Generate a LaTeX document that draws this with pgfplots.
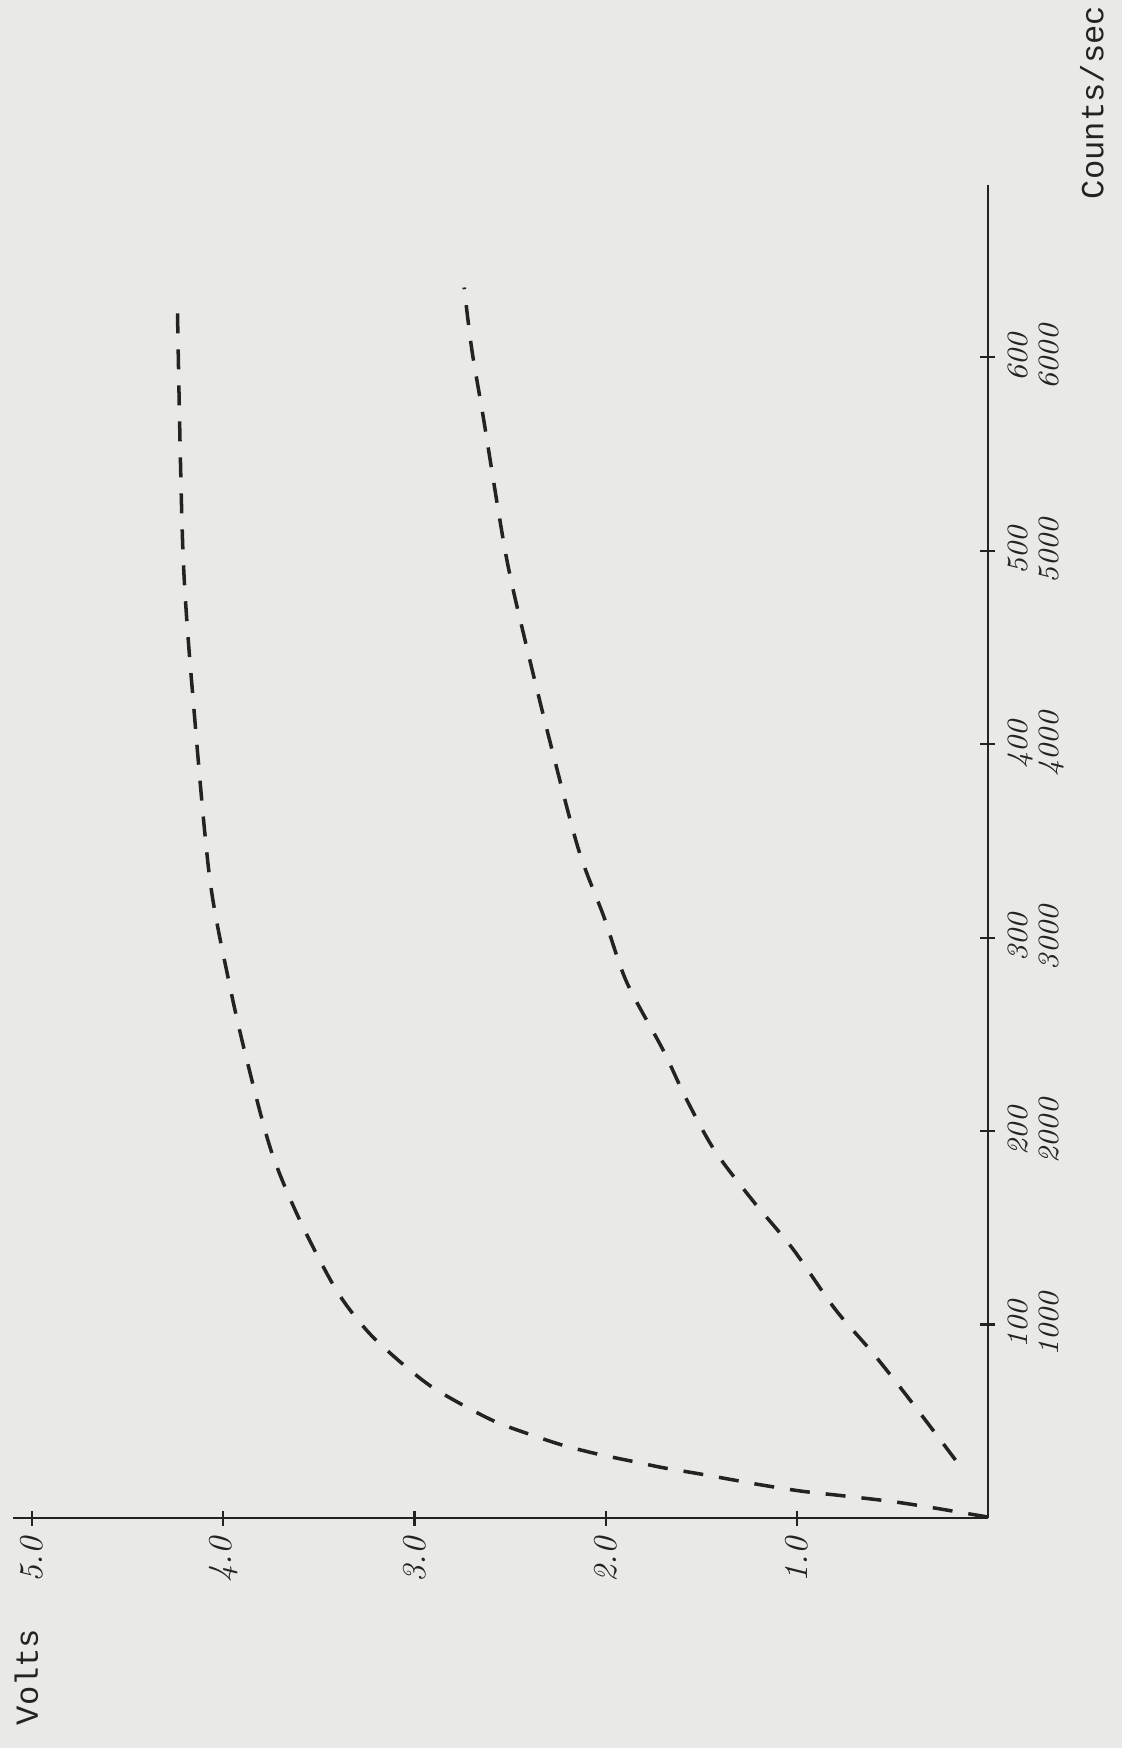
\documentclass[border=0pt]{standalone}
\usepackage{fontspec}
\usepackage{pgfplots}
\pgfplotsset{compat=1.18}
\newfontfamily\monofont{Liberation Mono}
\definecolor{paper}{RGB}{233,234,230}
\definecolor{ink}{RGB}{35,35,35}
\begin{document}
\begin{tikzpicture}
\fill[paper,use as bounding box] (-98.8mm,-23mm) rectangle (13.4mm,151.8mm);
\begin{axis}[
  at={(0,0)}, anchor=south east,
  scale only axis, width=97.5mm, height=133.3mm,
  x dir=reverse, xmin=0, xmax=5.10, ymin=0, ymax=689,
  axis x line=bottom, axis y line=right,
  axis line style={ink, line width=0.6pt, -},
  xtick={1,2,3,4,5}, xticklabels={1.0,2.0,3.0,4.0,5.0},
  ytick={100,200,300,400,500,600},
  yticklabels={{100\\1000},{200\\2000},{300\\3000},{400\\4000},{500\\5000},{600\\6000}},
  tick align=center, major tick length=1.5mm,
  tick style={ink, line width=0.6pt},
  xticklabel style={rotate=90, anchor=east, font=\itshape\fontsize{9.5}{11}\selectfont, text=ink},
  yticklabel style={rotate=90, anchor=north, align=center, font=\itshape\fontsize{8.4}{8.8}\selectfont, text=ink},
  clip=false,
]
\addplot[ink, line width=1pt, dash pattern=on 2mm off 1.6mm, smooth, tension=0.5] coordinates {
(0,0.5) (0.15,3) (0.3,5.5) (0.5,8.5) (0.76,11.5) (0.97,13.8) (1.18,17) (1.35,20) (1.52,23) (1.70,26) (1.87,29.5) (2.04,33) (2.22,37.5) (2.39,43) (2.57,49.5) (2.74,58) (2.92,68.5) (3.09,82) (3.25,97) (3.41,118) (3.60,154) (3.75,190) (3.88,238) (3.97,277) (4.07,330) (4.15,414) (4.21,497) (4.24,626)
};
\addplot[ink, line width=1pt, dash pattern=on 2mm off 1.6mm, smooth, tension=0.5] coordinates {
(0.17,30) (0.40,60) (0.60,85) (0.80,108) (1.02,139) (1.23,164) (1.43,190) (1.58,217) (1.70,242) (1.89,277) (2.01,311) (2.14,345) (2.28,397) (2.41,449) (2.52,497) (2.64,569) (2.70,604) (2.74,636)
};
\node[yshift=-15.9mm, rotate=90, text=ink, font=\monofont\fontsize{9.15}{11}\selectfont] at (axis cs:5.03,0) {Volts};
\node[xshift=10.4mm, rotate=90, text=ink, font=\monofont\fontsize{9.15}{11}\selectfont] at (axis cs:0,731.6) {Counts/sec};
\end{axis}
\end{tikzpicture}
\end{document}
